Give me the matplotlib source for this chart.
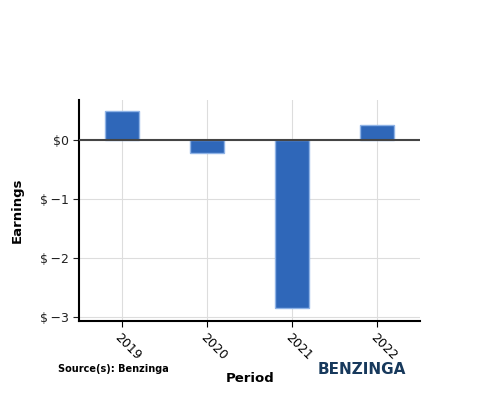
import matplotlib
matplotlib.use("Agg")
import matplotlib.pyplot as plt
from matplotlib.ticker import FuncFormatter

periods = ["2019", "2020", "2021", "2022"]
earnings = [0.49, -0.22, -2.85, 0.25]
yticks = [0, -1, -2, -3]

fig = plt.figure(figsize=(5, 4), dpi=100)
ax = fig.add_axes([0.158, 0.1975, 0.682, 0.5525])

x = list(range(len(periods)))
ax.bar(x, earnings, width=0.4, color="#2f67b9", edgecolor="#8fb3e6", linewidth=1, zorder=3)
ax.axhline(0, color="#444444", linewidth=1.5, zorder=4)

ax.set_xlim(-0.5, 3.5)
ax.set_ylim(-3.07, 0.68)
ax.set_xticks(x)
ax.set_xticklabels(periods, rotation=-45, ha="left", va="top", rotation_mode="anchor", fontsize=9)
ax.set_yticks(yticks)
ax.yaxis.set_major_formatter(FuncFormatter(lambda v, p: "$0" if v == 0 else "$\u2009\u2212%d" % abs(v)))
ax.tick_params(axis="y", labelsize=9, colors="#222222", length=4)
ax.tick_params(axis="x", length=4)
ax.grid(True, color="#dddddd", linewidth=0.8, zorder=0)
for s in ["top", "right"]:
    ax.spines[s].set_visible(False)
for s in ["left", "bottom"]:
    ax.spines[s].set_linewidth(1.5)
    ax.spines[s].set_color("black")

fig.text(0.034, 0.4735, "Earnings", rotation=90, ha="center", va="center", fontsize=9.5, fontweight="bold")
fig.text(0.5, 0.055, "Period", ha="center", va="center", fontsize=9.5, fontweight="bold")
fig.text(0.116, 0.077, "Source(s): Benzinga", ha="left", va="center", fontsize=7, fontweight="bold")
fig.text(0.724, 0.075, "BENZINGA", ha="center", va="center", fontsize=11, fontweight="bold", color="#17395c")

fig.savefig("out.png", dpi=100)
